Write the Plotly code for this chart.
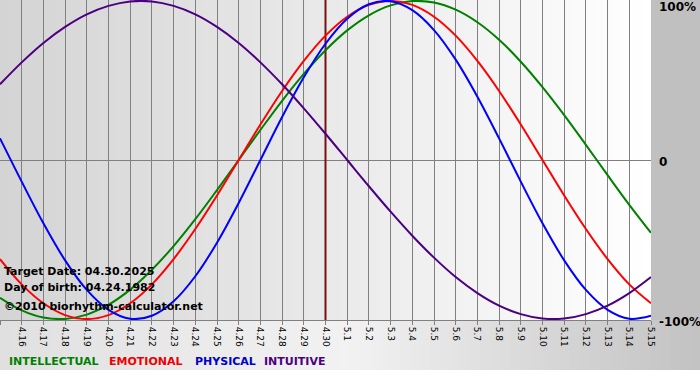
import plotly.graph_objects as go

# ---- data (fraction of 100%) ----
dates = ["4.15", "4.16", "4.17", "4.18", "4.19", "4.20", "4.21", "4.22", "4.23", "4.24",
         "4.25", "4.26", "4.27", "4.28", "4.29", "4.30", "5.1", "5.2", "5.3", "5.4",
         "5.5", "5.6", "5.7", "5.8", "5.9", "5.10", "5.11", "5.12", "5.13", "5.14", "5.15"]

physical = [0.136, -0.136, -0.398, -0.631, -0.817, -0.942, -0.998, -0.979, -0.888, -0.731,
            -0.520, -0.270, 0.000, 0.270, 0.520, 0.731, 0.888, 0.979, 0.998, 0.942,
            0.817, 0.631, 0.398, 0.136, -0.136, -0.398, -0.631, -0.817, -0.942, -0.998, -0.979]

emotional = [-0.623, -0.782, -0.901, -0.975, -1.000, -0.975, -0.901, -0.782, -0.623, -0.434,
             -0.223, 0.000, 0.223, 0.434, 0.623, 0.782, 0.901, 0.975, 1.000, 0.975,
             0.901, 0.782, 0.623, 0.434, 0.223, 0.000, -0.223, -0.434, -0.623, -0.782, -0.901]

intellectual = [-0.866, -0.945, -0.990, -0.999, -0.972, -0.910, -0.815, -0.690, -0.541, -0.372,
                -0.189, 0.000, 0.189, 0.372, 0.541, 0.690, 0.815, 0.910, 0.972, 0.999,
                0.990, 0.945, 0.866, 0.756, 0.618, 0.458, 0.282, 0.095, -0.095, -0.282, -0.458]

intuitive = [0.476, 0.614, 0.736, 0.837, 0.916, 0.969, 0.997, 0.997, 0.969, 0.916,
             0.837, 0.736, 0.614, 0.476, 0.325, 0.165, 0.000, -0.165, -0.325, -0.476,
             -0.614, -0.736, -0.837, -0.916, -0.969, -0.997, -0.997, -0.969, -0.916, -0.837, -0.736]

target_date = "04.30.2025"
birth_date = "04.24.1982"
target_label = "4.30"

series_names = ["INTELLECTUAL", "EMOTIONAL", "PHYSICAL", "INTUITIVE"]
series_colors = ["#008000", "#ff0000", "#0000ff", "#4b0082"]
legend_colors = ["#008000", "#ee0000", "#0000cc", "#4b0082"]

FONT = "DejaVu Sans"
W, H = 700, 380
ML, MR, MT, MB = 0, 49, 0, 60
PW, PH = W - ML - MR, H - MT - MB


def px_x(px):
    return (px - ML) / PW


def px_y(py):
    return 1 - (py - MT) / PH


x_idx = list(range(len(dates)))
tgt = dates.index(target_label)

fig = go.Figure()
# target-date marker line (drawn beneath the curves)
fig.add_trace(go.Scatter(x=[tgt, tgt], y=[-1.006, 1.006], mode="lines",
                         line=dict(color="#7a1010", width=2), hoverinfo="skip"))
for name, vals, col in zip(series_names, [intellectual, emotional, physical, intuitive], series_colors):
    fig.add_trace(go.Scatter(x=x_idx, y=vals, mode="lines", name=name,
                             line=dict(color=col, width=2, shape="spline", smoothing=1.0),
                             hoverinfo="skip"))

shapes = []


def lerp(c1, c2, t):
    return int(round(c1 + (c2 - c1) * t))


# plot-area horizontal gradient (grey -> white)
N = 80
for i in range(N):
    t = (i + 0.5) / N
    v = lerp(212, 255, t)
    shapes.append(dict(type="rect", xref="paper", yref="paper",
                       x0=i / N, x1=(i + 1) / N + 0.002, y0=0, y1=1,
                       fillcolor=f"rgb({v},{v},{v})", line=dict(width=0), layer="below"))

# right margin (solid grey)
shapes.append(dict(type="rect", xref="paper", yref="paper",
                   x0=1.0, x1=px_x(W + 2), y0=0, y1=px_y(-2),
                   fillcolor="#c0c0c0", line=dict(width=0), layer="below"))

# bottom band gradient
NB = 70
for i in range(NB):
    xa = i * W / NB
    xb = (i + 1) * W / NB
    xm = (xa + xb) / 2
    if xm < 350:
        v = lerp(224, 242, xm / 350)
    else:
        v = lerp(242, 194, (xm - 350) / 350)
    shapes.append(dict(type="rect", xref="paper", yref="paper",
                       x0=px_x(xa), x1=px_x(xb + 0.8), y0=px_y(370), y1=0,
                       fillcolor=f"rgb({v},{v},{v})", line=dict(width=0), layer="below"))

annotations = []
# right-side percent labels
for yv, txt, ysh in [(1, "100%", -6), (0, "0", -1.5), (-1, "-100%", -2.5)]:
    annotations.append(dict(xref="paper", yref="y", x=1.0, y=yv, xanchor="left",
                            yanchor="middle", xshift=6, yshift=ysh, showarrow=False, text=txt,
                            font=dict(family=FONT, size=12, color="black", weight="bold")))

# info text block
for txt, ypx in [(f"Target Date: {target_date}", 271.5), (f"Day of birth: {birth_date}", 287.5),
                 ("©2010 biorhythm-calculator.net", 306.5)]:
    annotations.append(dict(xref="paper", yref="paper", x=px_x(2), y=px_y(ypx), xanchor="left",
                            yanchor="middle", showarrow=False, text=txt,
                            font=dict(family=FONT, size=11, color="black", weight="bold")))

# legend labels
for name, col, xpx in zip(series_names, legend_colors, [7, 107, 193, 262]):
    annotations.append(dict(xref="paper", yref="paper", x=px_x(xpx), y=px_y(361.5), xanchor="left",
                            yanchor="middle", showarrow=False, text=name,
                            font=dict(family=FONT, size=11, color=col, weight="bold")))

fig.update_layout(
    width=W, height=H,
    margin=dict(l=ML, r=MR, t=MT, b=MB, pad=0),
    paper_bgcolor="white", plot_bgcolor="rgba(0,0,0,0)",
    showlegend=False,
    shapes=shapes, annotations=annotations,
    font=dict(family=FONT, color="black"),
)
fig.update_xaxes(range=[0, len(dates) - 1], tickmode="array", tickvals=x_idx, ticktext=dates,
                 tickangle=90, tickfont=dict(family=FONT, size=9, color="black"),
                 ticks="outside", ticklen=4, tickcolor="#808080", tickwidth=1,
                 showgrid=True, gridcolor="#808080", gridwidth=1,
                 showline=True, linecolor="#808080", linewidth=1, mirror=True,
                 zeroline=False, automargin=False, fixedrange=True)
fig.update_yaxes(range=[-1.006, 1.006], showticklabels=False, ticks="", showgrid=False,
                 zeroline=True, zerolinecolor="#808080", zerolinewidth=1,
                 showline=False, automargin=False, fixedrange=True)

fig.write_html("out.html", config={"displayModeBar": False},
               post_script="document.body.style.margin='0';")
